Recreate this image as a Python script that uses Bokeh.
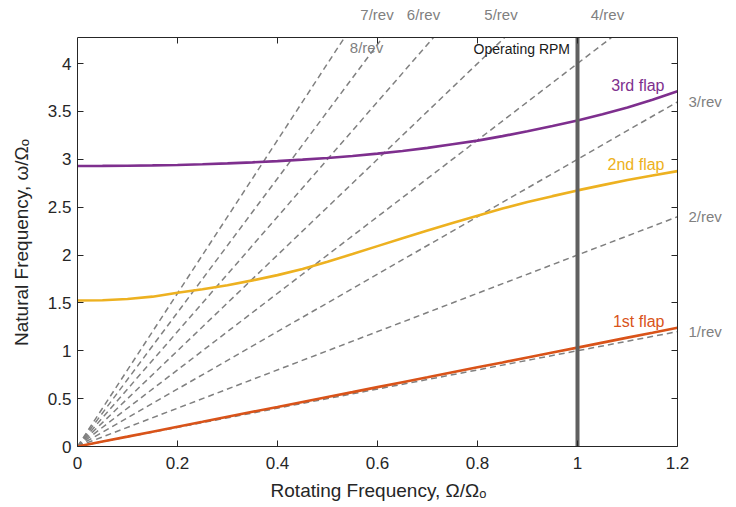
from bokeh.plotting import figure
from bokeh.models import (ColumnDataSource, Range1d, LinearAxis, FixedTicker,
                          CustomJSTickFormatter, Label)
from bokeh.embed import file_html
from bokeh.resources import INLINE

# Non-dimensional rotor speed and flap mode natural frequencies
omega = [0.0, 0.05, 0.1, 0.15, 0.2, 0.25, 0.3, 0.35, 0.4, 0.45, 0.5, 0.55, 0.6,
         0.65, 0.7, 0.75, 0.8, 0.85, 0.9, 0.95, 1.0, 1.05, 1.1, 1.15, 1.2]
flap1 = [0.0, 0.052, 0.103, 0.155, 0.207, 0.258, 0.31, 0.362, 0.413, 0.465,
         0.517, 0.568, 0.62, 0.672, 0.723, 0.775, 0.827, 0.878, 0.93, 0.982,
         1.033, 1.085, 1.137, 1.188, 1.24]
flap2 = [1.525, 1.528, 1.54, 1.565, 1.605, 1.643, 1.685, 1.735, 1.79, 1.855,
         1.93, 2.01, 2.093, 2.175, 2.255, 2.335, 2.41, 2.485, 2.553, 2.615,
         2.675, 2.73, 2.783, 2.83, 2.876]
flap3 = [2.93, 2.931, 2.933, 2.936, 2.941, 2.948, 2.957, 2.968, 2.981, 2.996,
         3.014, 3.035, 3.059, 3.087, 3.119, 3.157, 3.195, 3.242, 3.292, 3.347,
         3.405, 3.47, 3.54, 3.622, 3.71]

# Per-rev excitation orders
rev_orders = [1, 2, 3, 4, 5, 6, 7, 8]
operating_rpm = 1.0

x_ticks = [0, 0.2, 0.4, 0.6, 0.8, 1.0, 1.2]
y_ticks = [0, 0.5, 1, 1.5, 2, 2.5, 3, 3.5, 4]

FONT = "Liberation Sans"
AXIS_COLOR = "#262626"
GRAY = "#808080"
RED = "#D95319"
YELLOW = "#EDB120"
PURPLE = "#7E2F8E"

# Axes box limits
X_MAX, Y_MAX = 1.2, 4.272

# The drawing frame runs past the box to the top/right canvas edges, so the
# order labels printed outside the box stay visible.
W, H = 736, 507
BORDER_L, BORDER_B = 77, 61
BOX_W, BOX_H = 600, 409
X_FULL = X_MAX * (W - BORDER_L) / BOX_W
Y_FULL = Y_MAX * (H - BORDER_B) / BOX_H

p = figure(width=W, height=H, output_backend="svg", toolbar_location=None,
           x_range=Range1d(0, X_FULL), y_range=Range1d(0, Y_FULL),
           min_border_left=BORDER_L, min_border_bottom=BORDER_B,
           min_border_top=0, min_border_right=0,
           background_fill_color="white", border_fill_color="white")
p.grid.visible = False
p.outline_line_color = None

fmt = CustomJSTickFormatter(code="return String(Number(tick.toFixed(2)));")

xb, yl = p.xaxis[0], p.yaxis[0]
for ax in (xb, yl):
    ax.formatter = fmt
    ax.major_label_text_font = FONT
    ax.major_label_text_font_size = "17px"
    ax.major_label_text_color = AXIS_COLOR
    ax.axis_label_text_font = FONT
    ax.axis_label_text_font_size = "19px"
    ax.axis_label_text_font_style = "normal"
    ax.axis_label_text_color = AXIS_COLOR

xb.ticker = FixedTicker(ticks=x_ticks)
yl.ticker = FixedTicker(ticks=y_ticks)
xb.bounds = (0, X_MAX)
yl.bounds = (0, Y_MAX)
# Axis titles are centred on the whole frame; trailing en spaces pull them
# back over the centre of the box.
xb.axis_label = "Rotating Frequency, \u03A9/\u03A9\u2092" + "\u2002" * 6
yl.axis_label = "Natural Frequency, \u03C9/\u03A9\u2092" + "\u2002" * 4
xb.major_label_standoff = 10
xb.axis_label_standoff = 8
yl.major_label_standoff = 6
yl.axis_label_standoff = 13

# Box edges on top and right with mirrored ticks
top = LinearAxis(ticker=FixedTicker(ticks=x_ticks), fixed_location=Y_MAX,
                 bounds=(0, X_MAX))
right = LinearAxis(ticker=FixedTicker(ticks=y_ticks), fixed_location=X_MAX,
                   bounds=(0, Y_MAX))
for ax in (top, right):
    ax.major_label_text_color = None
    ax.major_label_standoff = 0
p.add_layout(top, "above")
p.add_layout(right, "right")

for ax in (xb, yl, top, right):
    ax.major_tick_in = 6
    ax.major_tick_out = 0
    ax.minor_tick_line_color = None
    ax.axis_line_color = AXIS_COLOR
    ax.axis_line_width = 1
    ax.major_tick_line_color = AXIS_COLOR

# Engine order lines, stopped where they leave the box
x_end = omega[-1]
ends = [min(x_end, Y_MAX / n) for n in rev_orders]
rev_src = ColumnDataSource(dict(
    xs=[[0.0, e] for e in ends],
    ys=[[0.0, n * e] for n, e in zip(rev_orders, ends)],
))
p.multi_line(xs="xs", ys="ys", source=rev_src, line_color=GRAY,
             line_width=1.5, line_dash="6 4")

# Flap modes
p.line(omega, flap1, line_color=RED, line_width=2.6)
p.line(omega, flap2, line_color=YELLOW, line_width=2.6)
p.line(omega, flap3, line_color=PURPLE, line_width=2.6)

# Operating speed marker
p.segment(x0=[operating_rpm], y0=[0], x1=[operating_rpm], y1=[Y_MAX],
          line_color="#606060", line_width=4)


def annotate(x, y, text, color, size, align):
    p.add_layout(Label(x=x, y=y, text=text, text_align=align,
                       text_baseline="middle", text_font=FONT,
                       text_font_size=size, text_color=color))


annotate(0.985, 4.15, "Operating RPM", "#1a1a1a", "14px", "right")

# Mode labels
for txt, col, ypos in [("1st flap", RED, 1.31), ("2nd flap", YELLOW, 2.95),
                       ("3rd flap", PURPLE, 3.77)]:
    annotate(1.174, ypos, txt, col, "16px", "right")

# Per-rev labels: low orders at the right edge, higher ones along the top
rev_label_pos = {1: (1.222, 1.2, "left"), 2: (1.222, 2.4, "left"),
                 3: (1.222, 3.6, "left"), 4: (1.06, 4.51, "center"),
                 5: (0.847, 4.51, "center"), 6: (0.692, 4.51, "center"),
                 7: (0.599, 4.51, "center"), 8: (0.578, 4.17, "center")}
for n in rev_orders:
    lx, ly, al = rev_label_pos[n]
    annotate(lx, ly, f"{n}/rev", GRAY, "15px", al)

open("out.html", "w").write(file_html(p, INLINE))
